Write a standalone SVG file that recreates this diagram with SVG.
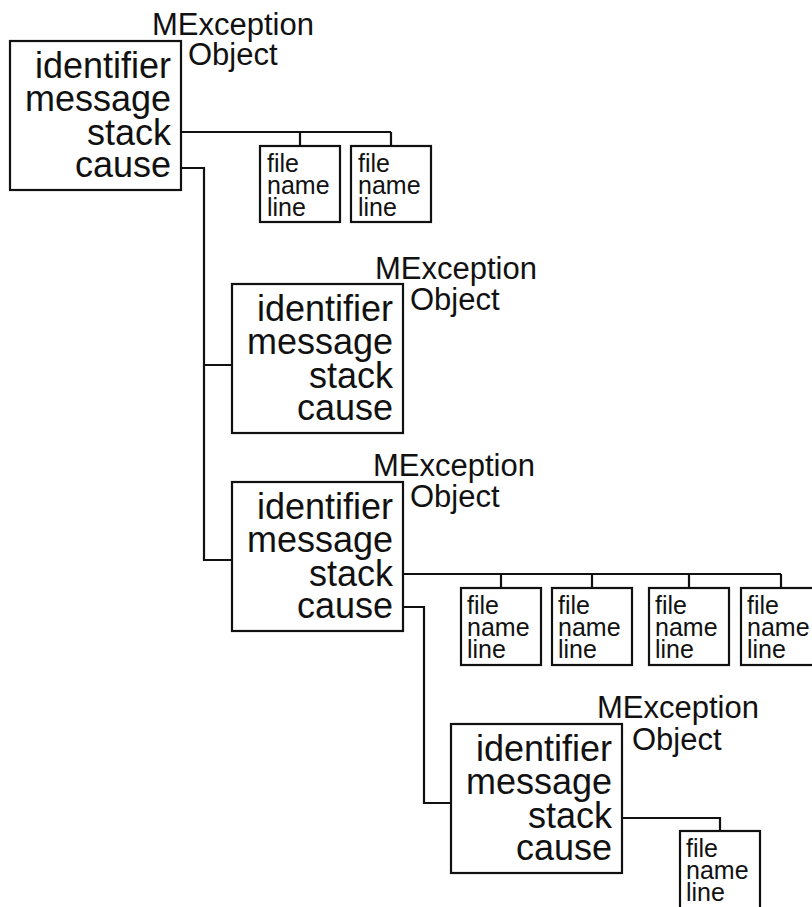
<svg xmlns="http://www.w3.org/2000/svg" width="812" height="907" viewBox="0 0 812 907">
<style>
.box{fill:#fff;stroke:#111;stroke-width:2.2}
.sb{fill:#fff;stroke:#111;stroke-width:2.2}
.f{font-family:"Liberation Sans",Arial,sans-serif;fill:#111}
.m{font-size:36px;text-anchor:end}
.t{font-size:31px}
.s{font-size:25px}
.c{fill:none;stroke:#111;stroke-width:2.2}
</style>
<rect width="812" height="907" fill="#fff"/>
<g id="connectors">
<path class="c" d="M181 132 H391 M300 132 V146 M391 132 V146"/>
<path class="c" d="M181 168 H204 V560 H232 M204 365 H232"/>
<path class="c" d="M403 574 H781 M501 574 V588 M592 574 V588 M689 574 V588 M781 574 V588"/>
<path class="c" d="M403 607 H424 V803 H451"/>
<path class="c" d="M622 818 H720 V831"/>
</g>
<g id="node1">
<rect class="box" x="10" y="41" width="171" height="149"/>
<text class="f t" x="152" y="35">MException</text>
<text class="f t" x="188" y="65">Object</text>
<text class="f m" x="171" y="78">identifier</text>
<text class="f m" x="171" y="111">message</text>
<text class="f m" x="171" y="145">stack</text>
<text class="f m" x="171" y="177">cause</text>
</g>
<g id="node2">
<rect class="box" x="232" y="284" width="171" height="149"/>
<text class="f t" x="375" y="279">MException</text>
<text class="f t" x="410" y="310">Object</text>
<text class="f m" x="393" y="321">identifier</text>
<text class="f m" x="393" y="354">message</text>
<text class="f m" x="393" y="388">stack</text>
<text class="f m" x="393" y="420">cause</text>
</g>
<g id="node3">
<rect class="box" x="232" y="482" width="171" height="149"/>
<text class="f t" x="373" y="476">MException</text>
<text class="f t" x="410" y="507">Object</text>
<text class="f m" x="393" y="519">identifier</text>
<text class="f m" x="393" y="552">message</text>
<text class="f m" x="393" y="586">stack</text>
<text class="f m" x="393" y="618">cause</text>
</g>
<g id="node4">
<rect class="box" x="451" y="724" width="171" height="149"/>
<text class="f t" x="597" y="718">MException</text>
<text class="f t" x="632" y="750">Object</text>
<text class="f m" x="612" y="761">identifier</text>
<text class="f m" x="612" y="794">message</text>
<text class="f m" x="612" y="828">stack</text>
<text class="f m" x="612" y="860">cause</text>
</g>
<g id="frame1a">
<rect class="sb" x="260" y="146" width="80" height="76"/>
<text class="f s" x="267" y="172">file</text>
<text class="f s" x="267" y="194">name</text>
<text class="f s" x="267" y="216">line</text>
</g>
<g id="frame1b">
<rect class="sb" x="351" y="146" width="80" height="76"/>
<text class="f s" x="358" y="172">file</text>
<text class="f s" x="358" y="194">name</text>
<text class="f s" x="358" y="216">line</text>
</g>
<g id="frame3a">
<rect class="sb" x="461" y="588" width="80" height="77"/>
<text class="f s" x="467" y="614">file</text>
<text class="f s" x="467" y="636">name</text>
<text class="f s" x="467" y="658">line</text>
</g>
<g id="frame3b">
<rect class="sb" x="552" y="588" width="80" height="77"/>
<text class="f s" x="558" y="614">file</text>
<text class="f s" x="558" y="636">name</text>
<text class="f s" x="558" y="658">line</text>
</g>
<g id="frame3c">
<rect class="sb" x="649" y="588" width="80" height="77"/>
<text class="f s" x="655" y="614">file</text>
<text class="f s" x="655" y="636">name</text>
<text class="f s" x="655" y="658">line</text>
</g>
<g id="frame3d">
<rect class="sb" x="741" y="588" width="80" height="77"/>
<text class="f s" x="747" y="614">file</text>
<text class="f s" x="747" y="636">name</text>
<text class="f s" x="747" y="658">line</text>
</g>
<g id="frame4a">
<rect class="sb" x="680" y="831" width="80" height="80"/>
<text class="f s" x="686" y="857">file</text>
<text class="f s" x="686" y="879">name</text>
<text class="f s" x="686" y="901">line</text>
</g>
</svg>
